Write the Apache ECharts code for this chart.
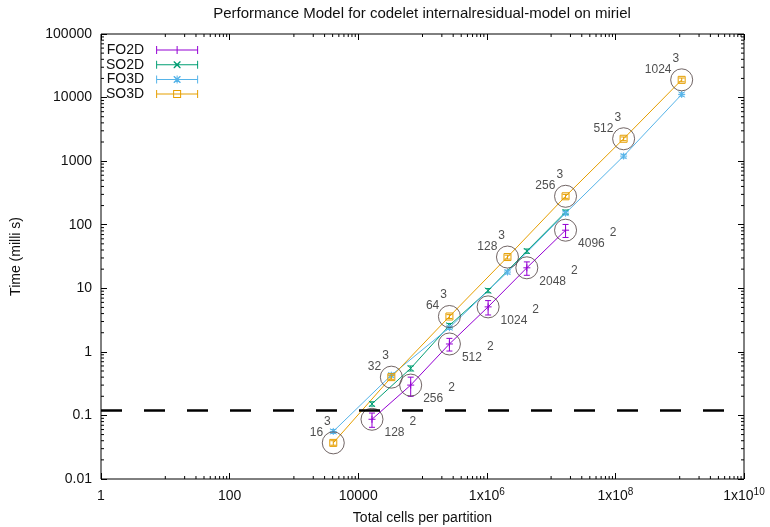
<!DOCTYPE html>
<html><head><meta charset="utf-8">
<script src="https://cdn.jsdelivr.net/npm/echarts@6/dist/echarts.min.js"></script>
<style>html,body{margin:0;padding:0;background:#fff;} #c{width:770px;height:527px;}</style>
</head><body><div id="c"></div>
<script>
// ---- data ----
const seriesNames = ['FO2D', 'SO2D', 'FO3D', 'SO3D'];
const cells2D = [16384, 65536, 262144, 1048576, 4194304, 16777216];
const cells3D = [4096, 32768, 262144, 2097152, 16777216, 134217728, 1073741824];
const labels2D = ['128', '256', '512', '1024', '2048', '4096'];
const labels3D = ['16', '32', '64', '128', '256', '512', '1024'];
const fo2dTime = [0.087, 0.30, 1.33, 5.1, 21, 82];
const fo2dErr  = [0.022, 0.10, 0.30, 1.3, 5, 19];
const so2dTime = [0.152, 0.55, 2.6, 9.2, 38.5, 158];
const so2dErr  = [0.012, 0.05, 0.2, 0.7, 3, 12];
const fo3dTime = [0.056, 0.43, 2.4, 18, 152, 1200, 11200];
const fo3dErr  = [0.004, 0.03, 0.15, 1.2, 10, 80, 700];
const so3dTime = [0.037, 0.40, 3.6, 31, 280, 2250, 19000];
const so3dErr  = [0.003, 0.03, 0.25, 2.2, 20, 150, 1300];
const thresholdTime = [0.122];
const xTickExponents = [0, 2, 4, 6, 8, 10];
const yTickExponents = [-2, -1, 0, 1, 2, 3, 4, 5];

// ---- styling ----
const colors = ['#9400d3', '#009e73', '#56b4e9', '#e69f00'];
const kinds = ['plus', 'cross', 'star', 'square'];
const FONT = '"Liberation Sans", Arial, sans-serif';
const circleColor = '#4e3e3e';

function zip(xs, ys, es) { return xs.map((x, i) => es ? [x, ys[i], es[i]] : [x, ys[i]]); }
const seriesData = [
  zip(cells2D, fo2dTime, fo2dErr),
  zip(cells2D, so2dTime, so2dErr),
  zip(cells3D, fo3dTime, fo3dErr),
  zip(cells3D, so3dTime, so3dErr)
];

function markerRender(kind, color) {
  return function (params, api) {
    const x = api.value(0), y = api.value(1), e = api.value(2);
    const p = api.coord([x, y]);
    const lo = api.coord([x, y - e]);
    const hi = api.coord([x, y + e]);
    const st = { stroke: color, lineWidth: 1, fill: 'none' };
    const cap = 3, m = 3.5;
    const ch = [
      { type: 'line', shape: { x1: p[0], y1: lo[1], x2: p[0], y2: hi[1] }, style: st },
      { type: 'line', shape: { x1: p[0] - cap, y1: lo[1], x2: p[0] + cap, y2: lo[1] }, style: st },
      { type: 'line', shape: { x1: p[0] - cap, y1: hi[1], x2: p[0] + cap, y2: hi[1] }, style: st }
    ];
    if (kind === 'plus' || kind === 'star') {
      ch.push({ type: 'line', shape: { x1: p[0] - m, y1: p[1], x2: p[0] + m, y2: p[1] }, style: st });
      ch.push({ type: 'line', shape: { x1: p[0], y1: p[1] - m, x2: p[0], y2: p[1] + m }, style: st });
    }
    if (kind === 'cross' || kind === 'star') {
      const d = 3;
      ch.push({ type: 'line', shape: { x1: p[0] - d, y1: p[1] - d, x2: p[0] + d, y2: p[1] + d }, style: st });
      ch.push({ type: 'line', shape: { x1: p[0] - d, y1: p[1] + d, x2: p[0] + d, y2: p[1] - d }, style: st });
    }
    if (kind === 'square') {
      ch.push({ type: 'rect', shape: { x: p[0] - 3.5, y: p[1] - 3.5, width: 7, height: 7 }, style: st });
    }
    return { type: 'group', children: ch };
  };
}

const capsPath = 'M0,0h1v8h-1z M41,0h1v8h-1z M0,3.5h42v1h-42z ';
const plusPath = 'M20.5,0h1v8h-1z ';
const crossPath = 'M17.5,0.5L18.5,0.5L24.5,6.5L24.5,7.5L23.5,7.5L17.5,1.5Z M24.5,0.5L24.5,1.5L18.5,7.5L17.5,7.5L17.5,6.5L23.5,0.5Z ';
const squarePath = 'M17,0h8v8h-8z M18,1v6h6v-6z ';
const legendIcons = [
  'path://' + capsPath + plusPath,
  'path://' + capsPath + crossPath,
  'path://' + capsPath + plusPath + crossPath,
  'path://' + capsPath + squarePath
];

const xMinorTicks = [];
for (let d = 1; d < 10; d += 2) for (let k = 1; k < 10; k++) xMinorTicks.push([k * Math.pow(10, d), 1]);
const yMinorTicks = [];
for (let d = -2; d < 5; d++) for (let k = 2; k < 10; k++) yMinorTicks.push([1, k * Math.pow(10, d)]);

function minorTickRender(dir) {
  return function (params, api) {
    const cs = params.coordSys;
    const p = api.coord([api.value(0), api.value(1)]);
    const st = { stroke: '#000', lineWidth: 1 };
    const L = 3;
    if (dir === 'x') {
      const b = cs.y + cs.height, t = cs.y;
      return { type: 'group', children: [
        { type: 'line', shape: { x1: p[0], y1: b, x2: p[0], y2: b - L }, style: st },
        { type: 'line', shape: { x1: p[0], y1: t, x2: p[0], y2: t + L }, style: st }
      ] };
    }
    const l = cs.x, r = cs.x + cs.width;
    return { type: 'group', children: [
      { type: 'line', shape: { x1: l, y1: p[1], x2: l + L, y2: p[1] }, style: st },
      { type: 'line', shape: { x1: r, y1: p[1], x2: r - L, y2: p[1] }, style: st }
    ] };
  };
}

function fmtX(v) {
  const e = Math.round(Math.log10(v));
  if (e < 5) return '{b|' + Math.round(Math.pow(10, e)) + '}';
  return '{b|1x10}{s|' + e + '}';
}
function fmtY(v) {
  const e = Math.round(Math.log10(v));
  if (e < 0) return Math.pow(10, e).toFixed(-e);
  return String(Math.round(Math.pow(10, e)));
}

const axisCommon = {
  type: 'log', logBase: 10,
  splitLine: { show: false },
  axisLine: { show: false },
  axisTick: { show: true, inside: true, length: 6, lineStyle: { color: '#000', width: 1 } },
  minorTick: { show: false }
};

const series = [];
for (let i = 0; i < 4; i++) {
  series.push({
    name: seriesNames[i], type: 'line', z: 2,
    data: seriesData[i].map(r => [r[0], r[1]]),
    symbol: 'none',
    itemStyle: { color: colors[i] },
    lineStyle: { color: colors[i], width: 1 },
    silent: true, animation: false,
    markLine: i === 0 ? {
      silent: true, symbol: ['none', 'none'], label: { show: false },
      lineStyle: { color: '#000', width: 2.5, type: [21, 22] },
      data: [{ yAxis: thresholdTime[0] }],
      animation: false
    } : undefined
  });
  series.push({
    name: seriesNames[i], type: 'custom', z: 3,
    data: seriesData[i],
    encode: { x: 0, y: 1 },
    renderItem: markerRender(kinds[i], colors[i]),
    itemStyle: { color: colors[i] },
    silent: true, animation: false
  });
}

const labelRich = {
  n: { fontSize: 12, fontFamily: FONT, color: '#222', lineHeight: 23, verticalAlign: 'bottom' },
  s: { fontSize: 12, fontFamily: FONT, color: '#222', lineHeight: 23, verticalAlign: 'top', padding: [0, 0, 0, 1] },
  s2: { fontSize: 12, fontFamily: FONT, color: '#222', lineHeight: 23, verticalAlign: 'top', padding: [0, 0, 0, 5] }
};
const circleStyle = { color: 'rgba(0,0,0,0)', borderColor: circleColor, borderWidth: 1 };

series.push({
  type: 'scatter', z: 4, silent: true, animation: false,
  data: cells2D.map((x, i) => [x, fo2dTime[i]]),
  symbol: 'circle', symbolSize: 22, itemStyle: circleStyle,
  label: {
    show: true, position: [24, 8], align: 'left', verticalAlign: 'top',
    formatter: p => '{n|' + labels2D[p.dataIndex] + '}{s2|2}', rich: labelRich
  }
});
series.push({
  type: 'scatter', z: 4, silent: true, animation: false,
  data: cells3D.map((x, i) => [x, so3dTime[i]]),
  symbol: 'circle', symbolSize: 22, itemStyle: circleStyle,
  label: {
    show: true, position: [9, -16], align: 'right', verticalAlign: 'top',
    formatter: p => '{n|' + labels3D[p.dataIndex] + '}{s|3}', rich: labelRich
  }
});
series.push({
  type: 'custom', silent: true, animation: false, z: 5,
  data: xMinorTicks, encode: { x: 0, y: 1 }, renderItem: minorTickRender('x')
});
series.push({
  type: 'custom', silent: true, animation: false, z: 5,
  data: yMinorTicks, encode: { x: 0, y: 1 }, renderItem: minorTickRender('y')
});

const xMin = Math.pow(10, xTickExponents[0]), xMax = Math.pow(10, xTickExponents[xTickExponents.length - 1]);
const yMin = Math.pow(10, yTickExponents[0]), yMax = Math.pow(10, yTickExponents[yTickExponents.length - 1]);

const option = {
  animation: false,
  backgroundColor: '#fff',
  textStyle: { fontFamily: FONT },
  title: {
    text: 'Performance Model for codelet internalresidual-model on miriel',
    left: 422, top: 6, textAlign: 'center', padding: 0,
    textStyle: { fontFamily: FONT, fontSize: 15, fontWeight: 'normal', color: '#111' }
  },
  grid: {
    left: 101, top: 34, right: 26, bottom: 48,
    show: true, borderColor: '#000', borderWidth: 1, backgroundColor: 'transparent',
    containLabel: false, outerBoundsMode: 'none'
  },
  legend: {
    orient: 'vertical', left: 106, top: 43, align: 'right', padding: 0,
    itemWidth: 42, itemHeight: 8, itemGap: 0.7, selectedMode: false,
    itemStyle: { borderWidth: 0 },
    textStyle: { fontFamily: FONT, fontSize: 14, color: '#111', width: 38, padding: [0, 7, 0, 0], lineHeight: 14 },
    data: seriesNames.map((n, i) => ({ name: n, icon: legendIcons[i], itemStyle: { color: colors[i], borderWidth: 0 } }))
  },
  xAxis: [
    Object.assign({}, axisCommon, {
      min: xMin, max: xMax, interval: 2, position: 'bottom',
      name: 'Total cells per partition', nameLocation: 'middle', nameGap: 32,
      nameTextStyle: { fontFamily: FONT, fontSize: 14, color: '#111' },
      axisLabel: {
        show: true, margin: 8, formatter: fmtX, color: '#111', showMinLabel: true, showMaxLabel: true,
        rich: {
          b: { fontFamily: FONT, fontSize: 14, color: '#111', lineHeight: 16, verticalAlign: 'bottom' },
          s: { fontFamily: FONT, fontSize: 10, color: '#111', lineHeight: 16, verticalAlign: 'top' }
        }
      }
    }),
    Object.assign({}, axisCommon, {
      min: xMin, max: xMax, interval: 2, position: 'top', axisLabel: { show: false }
    })
  ],
  yAxis: [
    Object.assign({}, axisCommon, {
      min: yMin, max: yMax, interval: 1, position: 'left',
      name: 'Time (milli s)', nameLocation: 'middle', nameGap: 78, nameRotate: 90,
      nameTextStyle: { fontFamily: FONT, fontSize: 14, color: '#111' },
      axisLabel: { show: true, margin: 9, formatter: fmtY, fontFamily: FONT, fontSize: 14, color: '#111', showMinLabel: true, showMaxLabel: true }
    }),
    Object.assign({}, axisCommon, {
      min: yMin, max: yMax, interval: 1, position: 'right', axisLabel: { show: false }
    })
  ],
  series: series
};

const chart = echarts.init(document.getElementById('c'), null, { renderer: 'canvas' });
chart.setOption(option);
</script>
</body></html>
